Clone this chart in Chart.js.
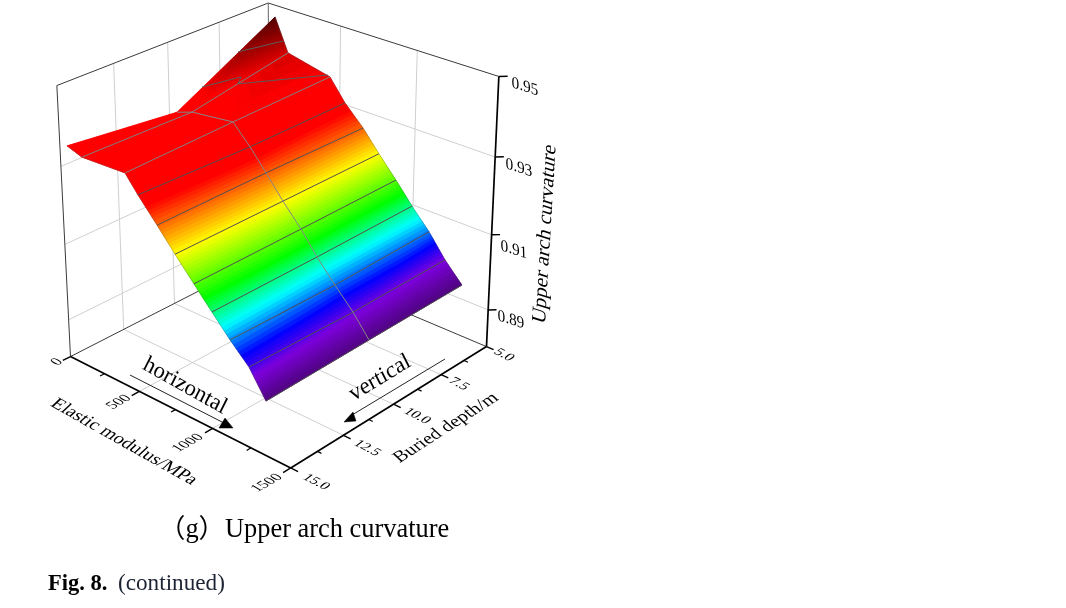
<!DOCTYPE html>
<html>
<head>
<meta charset="utf-8">
<script src="https://cdn.jsdelivr.net/npm/chart.js@4"></script>
<style>
    body { margin: 0; background: #fff; }
    canvas { display: block; filter: blur(0.35px); }
</style>
</head>
<body>
<canvas id="chart" width="1066" height="608"></canvas>
<script>
// surface values, one row per mesh line
const modulusAt5 = [48, 139, 432, 536, 660, 769, 885, 994, 1109, 1217, 1330];
const curvatureAt5 = [0.9469, 0.9385, 0.9359, 0.9304, 0.9255, 0.9202, 0.9149, 0.9096, 0.9045, 0.8987, 0.8938];
const modulusAt10 = [55, 162, 446, 560, 666, 778, 897, 1002, 1119, 1236, 1339];
const curvatureAt10 = [0.9328, 0.9343, 0.9357, 0.9310, 0.9259, 0.9204, 0.9151, 0.9096, 0.9043, 0.8993, 0.8939];
const modulusAt15 = [52, 156, 454, 537, 660, 775, 895, 1009, 1123, 1242, 1347];
const curvatureAt15 = [0.9359, 0.9346, 0.9351, 0.9310, 0.9255, 0.9202, 0.9149, 0.9099, 0.9050, 0.9004, 0.8939];
const depths = [5, 10, 15];

// short mesh pieces near the fold: [modulus, depth, curvature]
const foldLineA = [[104, 5, 0.9412], [60, 7, 0.9420]];
const foldLineB = [[444, 5.2, 0.9370], [199, 8, 0.9376], [221, 8, 0.9397], [59, 8.8, 0.9367]];

const modulusTicks = [0, 500, 1000, 1500];
const modulusMinor = [250, 750, 1250];
const depthTicks = [5, 7.5, 10, 12.5, 15];
const depthMinor = [6.25, 8.75, 11.25, 13.75];
const curvatureTicks = [0.89, 0.91, 0.93, 0.95];

// colour map
const stopValues = [0.8930, 0.8987, 0.9022, 0.9072, 0.9123, 0.9202, 0.9290, 0.9360, 0.9385, 0.9412, 0.9470];
const stopColors = [[70, 5, 110], [125, 0, 220], [0, 0, 255], [0, 255, 255], [0, 255, 0], [255, 255, 0], [255, 0, 0], [255, 0, 0], [215, 0, 0], [170, 0, 0], [80, 0, 0]];
const bandStep = 0.0006;

// camera fitted to the corners of the box in the picture
const cam = [177.17247, -204.98610, -15.51142, 269.33942, 63.19793, 70.62915, -252.05855, 254.91335, -0.08218, -0.08703, -0.05384];

function project(modulus, depth, curvature) {
    const u = modulus / 1500;
    const v = (depth - 5) / 10;
    const w = (curvature - 0.88) / 0.07;
    const d = cam[8] * u + cam[9] * v + cam[10] * w + 1;
    return {
        x: (cam[0] * u + cam[1] * v + cam[2] * w + cam[3]) / d,
        y: (cam[4] * u + cam[5] * v + cam[6] * w + cam[7]) / d
    };
}

function colorFor(z) {
    let i = 0;
    while (i < stopValues.length - 2 && z > stopValues[i + 1]) i++;
    const t = Math.min(1, Math.max(0, (z - stopValues[i]) / (stopValues[i + 1] - stopValues[i])));
    const c = stopColors[i].map((a, k) => Math.round(a + (stopColors[i + 1][k] - a) * t));
    return `rgb(${c[0]},${c[1]},${c[2]})`;
}

const datasets = [];

function addLine(points, color, width) {
    datasets.push({
        data: points,
        showLine: true,
        fill: false,
        borderColor: color,
        borderWidth: width,
        pointRadius: 0,
        tension: 0
    });
}

function addShape(points, color, edge) {
    datasets.push({
        data: [...points, points[0]],
        showLine: true,
        fill: 'shape',
        backgroundColor: color,
        borderColor: color,
        borderWidth: edge,
        pointRadius: 0,
        tension: 0
    });
}

function line3d(a, b, color, width) {
    addLine([project(...a), project(...b)], color, width);
}

// keep the part of a polygon on one side of a curvature level
function clipLevel(poly, level, keepAbove) {
    const out = [];
    poly.forEach((p, i) => {
        const q = poly[(i + 1) % poly.length];
        const inP = keepAbove ? p[2] >= level : p[2] <= level;
        const inQ = keepAbove ? q[2] >= level : q[2] <= level;
        if (inP) out.push(p);
        if (inP !== inQ) {
            const t = (level - p[2]) / (q[2] - p[2]);
            out.push([p[0] + (q[0] - p[0]) * t, p[1] + (q[1] - p[1]) * t, level]);
        }
    });
    return out;
}

// walls and floor grid
const gridColor = '#cfcfcf';
curvatureTicks.slice(0, 3).forEach(z => {
    line3d([0, 15, z], [0, 5, z], gridColor, 1);
    line3d([0, 5, z], [1500, 5, z], gridColor, 1);
});
[7.5, 10, 12.5].forEach(d => {
    line3d([0, d, 0.88], [0, d, 0.95], gridColor, 1);
    line3d([0, d, 0.88], [1500, d, 0.88], gridColor, 1);
});
[500, 1000].forEach(m => {
    line3d([m, 5, 0.88], [m, 5, 0.95], gridColor, 1);
    line3d([m, 5, 0.88], [m, 15, 0.88], gridColor, 1);
});

// box frame
const frameColor = '#3a3a3a';
line3d([0, 15, 0.95], [0, 5, 0.95], frameColor, 1);
line3d([0, 5, 0.95], [1500, 5, 0.95], frameColor, 1);
line3d([0, 5, 0.88], [0, 5, 0.95], '#666666', 1);
line3d([0, 15, 0.88], [0, 15, 0.95], frameColor, 1);
line3d([0, 15, 0.88], [0, 5, 0.88], frameColor, 1);
line3d([0, 5, 0.88], [1500, 5, 0.88], frameColor, 1);

// axes and ticks
line3d([0, 15, 0.88], [1500, 15, 0.88], '#000', 1.7);
line3d([1500, 15, 0.88], [1500, 5, 0.88], '#000', 1.7);
line3d([1500, 5, 0.88], [1500, 5, 0.95], '#000', 1.7);
modulusTicks.forEach(m => line3d([m, 15, 0.88], [m, 15.35, 0.88], '#000', 1.4));
modulusMinor.forEach(m => line3d([m, 15, 0.88], [m, 15.2, 0.88], '#000', 1.2));
depthTicks.forEach(d => line3d([1500, d, 0.88], [1545, d, 0.88], '#000', 1.4));
depthMinor.forEach(d => line3d([1500, d, 0.88], [1525, d, 0.88], '#000', 1.2));
curvatureTicks.forEach(z => line3d([1500, 5, z], [1530, 4.8, z], '#000', 1.4));

// surface, cut into colour bands; each band runs into the next one so no seams show
const modulusByDepth = [modulusAt5, modulusAt10, modulusAt15];
const curvatureByDepth = [curvatureAt5, curvatureAt10, curvatureAt15];
const node = (j, i) => [modulusByDepth[j][i], depths[j], curvatureByDepth[j][i]];
const triangles = [];
for (let i = 0; i < modulusAt5.length - 1; i++) {
    for (let j = 0; j < depths.length - 1; j++) {
        triangles.push([node(j, i), node(j + 1, i), node(j + 1, i + 1)]);
        triangles.push([node(j, i), node(j + 1, i + 1), node(j, i + 1)]);
    }
}
const firstBand = Math.floor(Math.min(...stopValues) / bandStep);
const lastBand = Math.ceil(Math.max(...stopValues) / bandStep);
for (let b = firstBand; b <= lastBand; b++) {
    const lo = b * bandStep;
    triangles.forEach(tri => {
        const piece = clipLevel(clipLevel(tri, lo, true), lo + 2 * bandStep, false);
        if (piece.length < 3) return;
        addShape(piece.map(p => project(...p)), colorFor(lo + bandStep / 2), 0.4);
    });
}

// mesh lines on the surface
modulusAt5.forEach((m, i) => {
    if (i === 0) return;
    addLine(depths.map((d, j) => project(...node(j, i))), i < 3 ? '#808080' : '#505050', 1);
});
addLine(modulusAt10.map((m, i) => project(...node(1, i))), '#868686', 1);
addLine(foldLineA.map(p => project(...p)), '#5c5c5c', 1);
addLine(foldLineB.map(p => project(...p)), '#5c5c5c', 1);
addLine(modulusAt5.map((m, i) => project(...node(0, i))), 'rgba(90,90,90,0.45)', 0.7);
addLine(modulusAt15.map((m, i) => project(...node(2, i))), 'rgba(90,90,90,0.45)', 0.7);

// the two arrows
addLine([{x: 130, y: 375}, {x: 224, y: 423}], '#222', 1);
addShape([{x: 225, y: 418}, {x: 219, y: 428}, {x: 233, y: 428}], '#000', 0.5);
addLine([{x: 445, y: 359}, {x: 352, y: 415}], '#222', 1);
addShape([{x: 353, y: 412}, {x: 344, y: 422}, {x: 356, y: 421}], '#000', 0.5);

// later datasets go on top
datasets.forEach((ds, i) => { ds.order = datasets.length - i; });

const serif = "'Liberation Serif', serif";
const modulusLabelPos = [[57, 362], [119, 402], [188, 443], [267, 483]];
const depthLabelPos = [[504, 355], [459, 384], [417, 416], [367, 448], [316, 482]];
const curvatureLabelPos = [[511, 320], [514, 250], [519, 168], [525, 87]];

// each label sits in its box plane: ex and ey are the glyph axes on screen
const labels = [];
modulusTicks.forEach((m, i) => labels.push({
    text: String(m), at: modulusLabelPos[i], ex: [0.87, -0.49], ey: [0.85, 0.5], font: `15px ${serif}`
}));
depthTicks.forEach((d, i) => labels.push({
    text: d.toFixed(1), at: depthLabelPos[i], ex: [0.89, 0.46], ey: [-0.72, 0.55], font: `15px ${serif}`
}));
curvatureTicks.forEach((z, i) => labels.push({
    text: z.toFixed(2), at: curvatureLabelPos[i], ex: [0.95, 0.3], ey: [0.03, 1.05], font: `16px ${serif}`
}));
labels.push({ text: 'Elastic modulus/MPa', at: [124, 442], ex: [0.87, 0.49], ey: [-0.7, 0.66], font: `19px ${serif}` });
labels.push({ text: 'Buried depth/m', at: [446, 428], ex: [0.84, -0.54], ey: [0.7, 0.66], font: `19px ${serif}` });
labels.push({ text: 'Upper arch curvature', at: [545, 234], ex: [0.06, -1], ey: [0.95, 0.3], font: `21px ${serif}` });
labels.push({ text: 'horizontal', at: [185, 386], ex: [0.87, 0.49], ey: [-0.45, 0.89], font: `23px ${serif}` });
labels.push({ text: 'vertical', at: [380, 378], ex: [0.85, -0.52], ey: [0.45, 0.89], font: `23px ${serif}` });

const textPlugin = {
    id: 'boxText',
    afterDatasetsDraw(chart) {
        const ctx = chart.ctx;
        ctx.save();
        ctx.fillStyle = '#000';
        ctx.textAlign = 'center';
        ctx.textBaseline = 'middle';
        labels.forEach(l => {
            ctx.save();
            ctx.transform(l.ex[0], l.ex[1], l.ey[0], l.ey[1], l.at[0], l.at[1]);
            ctx.font = l.font;
            ctx.fillText(l.text, 0, 0);
            ctx.restore();
        });
        // caption under the figure
        ctx.textAlign = 'left';
        ctx.textBaseline = 'alphabetic';
        ctx.font = "26.4px 'Liberation Serif', 'Noto Sans CJK SC'";
        ctx.fillText('（g）Upper arch curvature', 159, 537);
        ctx.font = "bold 22.5px 'Liberation Serif'";
        ctx.fillText('Fig. 8.', 48, 590);
        ctx.font = "23.2px 'Liberation Serif'";
        ctx.fillStyle = '#1c2433';
        ctx.fillText('(continued)', 118, 590);
        ctx.restore();
    }
};

new Chart(document.getElementById('chart').getContext('2d'), {
    type: 'scatter',
    data: { datasets: datasets },
    options: {
        responsive: false,
        animation: false,
        devicePixelRatio: 1,
        layout: { padding: 0 },
        plugins: { legend: { display: false }, tooltip: { enabled: false } },
        scales: {
            x: { type: 'linear', min: 0, max: 1066, display: false },
            y: { type: 'linear', min: 0, max: 608, reverse: true, display: false }
        }
    },
    plugins: [textPlugin]
});
</script>
</body>
</html>
